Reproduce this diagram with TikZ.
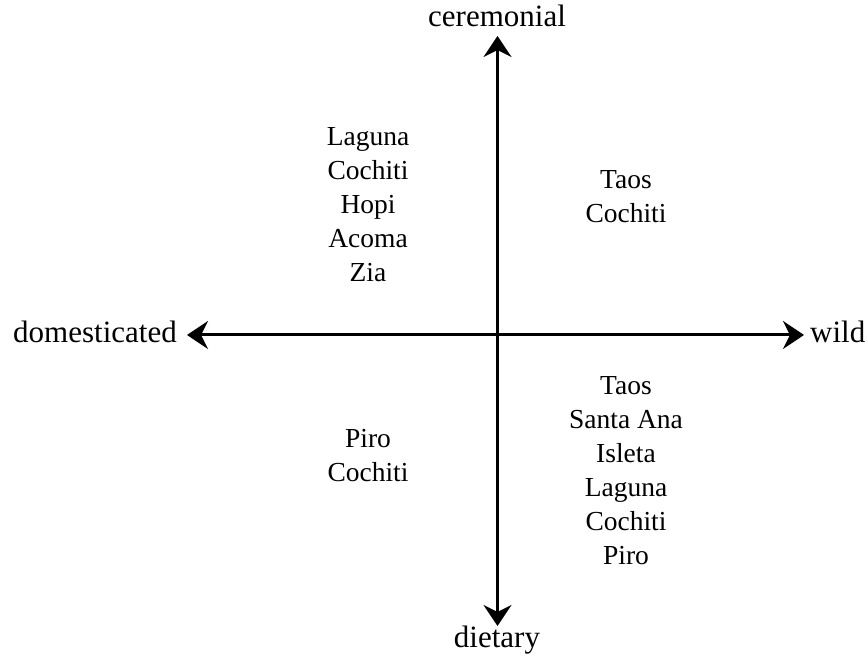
\documentclass[tikz,border=0pt]{standalone}
\usepackage{fontspec}
\setmainfont{Liberation Serif}
\usetikzlibrary{arrows.meta}
\begin{document}
\begin{tikzpicture}[x=1pt,y=1pt,
  lbl/.style={inner sep=0pt, font=\fontsize{31}{36}\selectfont},
  lst/.style={inner sep=0pt, align=center, font=\fontsize{27.5}{34}\selectfont},
  axis/.style={line width=3pt, >={Stealth[length=21pt,width=28pt,inset=7pt]}, <->}]
\useasboundingbox (0,0) rectangle (868,660);
\coordinate (top) at (497.5,660-36);
\coordinate (bot) at (497.5,660-626);
\coordinate (left) at (187,660-335);
\coordinate (right) at (804,660-335);
\draw[axis] (bot) -- (top);
\draw[axis] (left) -- (right);
\node[lbl, anchor=base] (cer) at (497,660-27) {ceremonial};
\node[lbl, anchor=base] (die) at (497,660-648) {dietary};
\node[lbl, anchor=base east] (dom) at (177,660-343) {domesticated};
\node[lbl, anchor=base west] (wil) at (810,660-343) {wild};
\node[lst, anchor=base] (ul) at (368,660-282) {Laguna\\Cochiti\\Hopi\\Acoma\\Zia};
\node[lst, anchor=base] (ur) at (626,660-223) {Taos\\Cochiti};
\node[lst, anchor=base] (ll) at (368,660-482) {Piro\\Cochiti};
\node[lst, anchor=base] (lr) at (626,660-565) {Taos\\Santa Ana\\Isleta\\Laguna\\Cochiti\\Piro};
\end{tikzpicture}
\end{document}
